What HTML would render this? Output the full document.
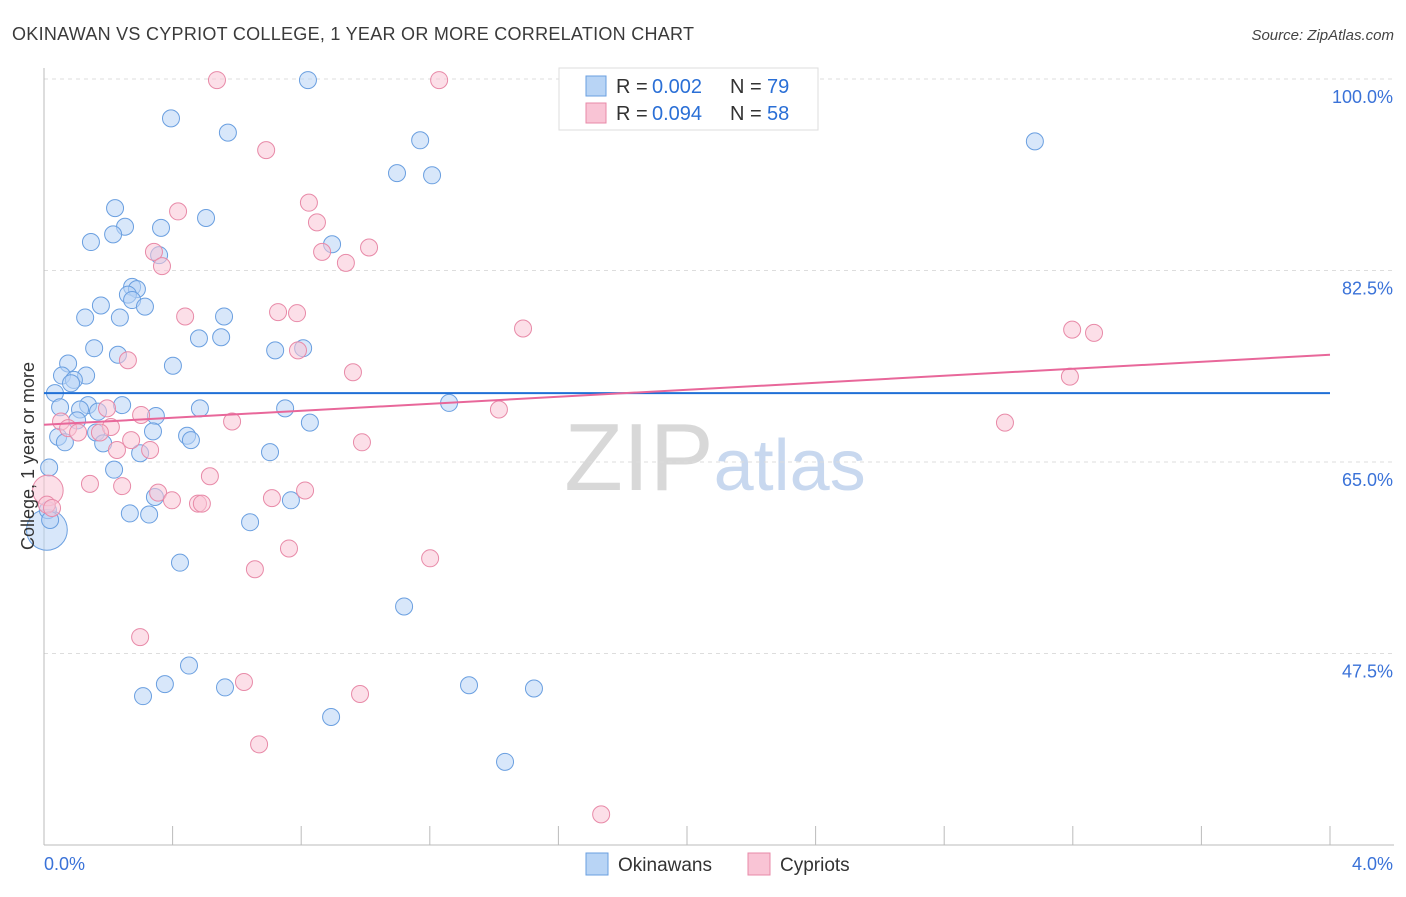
<!DOCTYPE html>
<html><head><meta charset="utf-8"><style>
body{margin:0;background:#fff;font-family:"Liberation Sans",sans-serif;}
svg text{font-family:"Liberation Sans",sans-serif;}
</style></head><body>
<svg id="chart" width="1406" height="892" viewBox="0 0 1406 892" xmlns="http://www.w3.org/2000/svg">
<text x="12" y="40" font-size="18" fill="#3a3a3a" textLength="682" lengthAdjust="spacing">OKINAWAN VS CYPRIOT COLLEGE, 1 YEAR OR MORE CORRELATION CHART</text>
<text x="1394" y="40" font-size="15" fill="#444" text-anchor="end" font-style="italic">Source: ZipAtlas.com</text>
<text x="715" y="490" font-size="96" text-anchor="middle" fill="#ddd" font-family="Liberation Serif"><tspan fill="#d8d8d8">ZIP</tspan><tspan fill="#c8d8ef" font-family="Liberation Sans" font-size="72">atlas</tspan></text>
<g id="grid"></g>
<g id="axes"></g>
<g id="pts"></g>
<g id="trend"></g>
<text transform="translate(34,456) rotate(-90)" font-size="18" fill="#333" text-anchor="middle">College, 1 year or more</text>
<g>
<rect x="559" y="68" width="259" height="62" fill="#fff" stroke="#ddd"/>
<rect x="586" y="76" width="20" height="20" fill="#b8d4f5" stroke="#6a9fe0"/>
<rect x="586" y="103" width="20" height="20" fill="#f9c4d5" stroke="#e88aa8"/>
<text y="93" font-size="20" fill="#333"><tspan x="616">R = </tspan><tspan x="652" fill="#2a6fd6">0.002</tspan><tspan x="730">N = </tspan><tspan x="767" fill="#2a6fd6">79</tspan></text>
<text y="120" font-size="20" fill="#333"><tspan x="616">R = </tspan><tspan x="652" fill="#2a6fd6">0.094</tspan><tspan x="730">N = </tspan><tspan x="767" fill="#2a6fd6">58</tspan></text>
</g>
<g>
<rect x="586" y="853" width="22" height="22" fill="#b8d4f5" stroke="#6a9fe0"/>
<text x="618" y="871" font-size="19" fill="#333">Okinawans</text>
<rect x="748" y="853" width="22" height="22" fill="#f9c4d5" stroke="#e88aa8"/>
<text x="780" y="871" font-size="19" fill="#333">Cypriots</text>
</g>
</svg>
<script>
const xTicks=[0,0.4,0.8,1.2,1.6,2.0,2.4,2.8,3.2,3.6,4.0];
const yTicks=[100,82.5,65,47.5];
const yTickLabels=["100.0%","82.5%","65.0%","47.5%"];
const blueX=[0.821,0.395,0.572,1.170,3.082,1.098,1.207,0.221,0.504,0.252,0.215,0.364,0.146,0.896,0.358,0.274,0.289,0.261,0.274,0.177,0.314,0.128,0.236,0.560,0.482,0.551,0.156,0.719,0.806,0.230,0.075,0.401,0.056,0.131,0.093,0.084,0.034,0.243,0.050,0.137,0.112,0.485,0.750,0.348,0.103,0.168,0.827,1.260,0.339,0.162,0.044,0.065,0.445,0.457,0.184,0.299,0.703,0.016,0.218,0.345,0.768,0.267,0.327,0.641,0.009,0.423,1.120,0.451,0.376,0.308,0.563,1.322,1.524,0.893,1.434,0.012,0.019];
const blueY=[99.9,96.4,95.1,94.4,94.3,91.4,91.2,88.2,87.3,86.5,85.8,86.4,85.1,84.9,83.9,81.0,80.8,80.3,79.8,79.3,79.2,78.2,78.2,78.3,76.3,76.4,75.4,75.2,75.4,74.8,74.0,73.8,72.9,72.9,72.5,72.2,71.3,70.2,70.0,70.2,69.8,69.9,69.9,69.2,68.8,69.6,68.6,70.4,67.8,67.7,67.3,66.8,67.4,67.0,66.7,65.8,65.9,64.5,64.3,61.8,61.5,60.3,60.2,59.5,58.8,55.8,51.8,46.4,44.7,43.6,44.4,44.6,44.3,41.7,37.6,60.6,59.7];
const blueSize=blueX.map((_,i)=>i===64?2.4:1);
const pinkX=[0.538,1.229,0.691,0.824,0.417,0.849,1.011,0.865,0.342,0.367,0.939,0.439,0.728,0.787,1.490,3.198,3.266,0.790,0.261,0.961,3.191,1.415,0.302,0.196,0.053,0.585,2.989,0.075,0.208,0.106,0.174,0.271,0.989,0.330,0.227,0.516,0.143,0.243,0.355,0.812,0.398,0.479,0.491,0.709,0.012,0.009,0.025,0.762,1.201,0.656,0.299,0.622,0.983,0.669,1.733];
const pinkY=[99.9,99.9,93.5,88.7,87.9,86.9,84.6,84.2,84.2,82.9,83.2,78.3,78.7,78.6,77.2,77.1,76.8,75.2,74.3,73.2,72.8,69.8,69.3,69.9,68.7,68.7,68.6,68.1,68.2,67.7,67.7,67.0,66.8,66.1,66.1,63.7,63.0,62.8,62.2,62.4,61.5,61.2,61.2,61.7,62.4,61.1,60.8,57.1,56.2,55.2,49.0,44.9,43.8,39.2,32.8];
const pinkSize=pinkX.map((_,i)=>i===44?1.8:1);
const blueTrend=[71.3,71.3];
const pinkTrend=[68.4,74.8];
const X=v=>44+v/4*1286;
const Y=v=>79+(100-v)*10.943;
const NS="http://www.w3.org/2000/svg";
function mk(tag,attrs,parent){const e=document.createElementNS(NS,tag);for(const k in attrs)e.setAttribute(k,attrs[k]);parent.appendChild(e);return e;}
const grid=document.getElementById('grid'),axes=document.getElementById('axes'),pts=document.getElementById('pts'),trend=document.getElementById('trend');
yTicks.forEach((t,i)=>{
 const l=mk('line',{x1:44,x2:1394,y1:Y(t),y2:Y(t),stroke:'#ddd','stroke-dasharray':'4,4'},grid);
 
 
 const tx=mk('text',{x:1393,y:Y(t)+24,'font-size':18,fill:'#3a72d8','text-anchor':'end'},axes);
 tx.textContent=yTickLabels[i];
 
 
});
const ax=mk('line',{x1:44,x2:1394,y1:845,y2:845,stroke:'#bbb'},axes);


const ay=mk('line',{x1:44,x2:44,y1:68,y2:845,stroke:'#bbb'},axes);


xTicks.forEach(t=>{
 const l=mk('line',{x1:X(t),x2:X(t),y1:826,y2:845,stroke:'#bbb'},axes);
 
 
});
const xl=mk('text',{x:44,y:870,'font-size':18,fill:'#3a72d8'},axes);xl.textContent='0.0%';


const xr=mk('text',{x:1393,y:870,'font-size':18,fill:'#3a72d8','text-anchor':'end'},axes);xr.textContent='4.0%';


function drawPts(xs,ys,ss,fill,stroke,name){
 xs.forEach((x,i)=>{
  const c=mk('circle',{cx:X(x),cy:Y(ys[i]),r:8.5*ss[i],fill:fill,'fill-opacity':0.55,stroke:stroke,'stroke-width':1},pts);
  
  
 });
}
drawPts(blueX,blueY,blueSize,'#b8d4f5','#6a9fe0','okinawan-point');
drawPts(pinkX,pinkY,pinkSize,'#f9c4d5','#e88aa8','cypriot-point');
const bt=mk('line',{x1:X(0),x2:X(4),y1:Y(blueTrend[0]),y2:Y(blueTrend[1]),stroke:'#1f6fd6','stroke-width':2},trend);


const pt=mk('line',{x1:X(0),x2:X(4),y1:Y(pinkTrend[0]),y2:Y(pinkTrend[1]),stroke:'#e8679a','stroke-width':2},trend);


</script>
</body></html>
